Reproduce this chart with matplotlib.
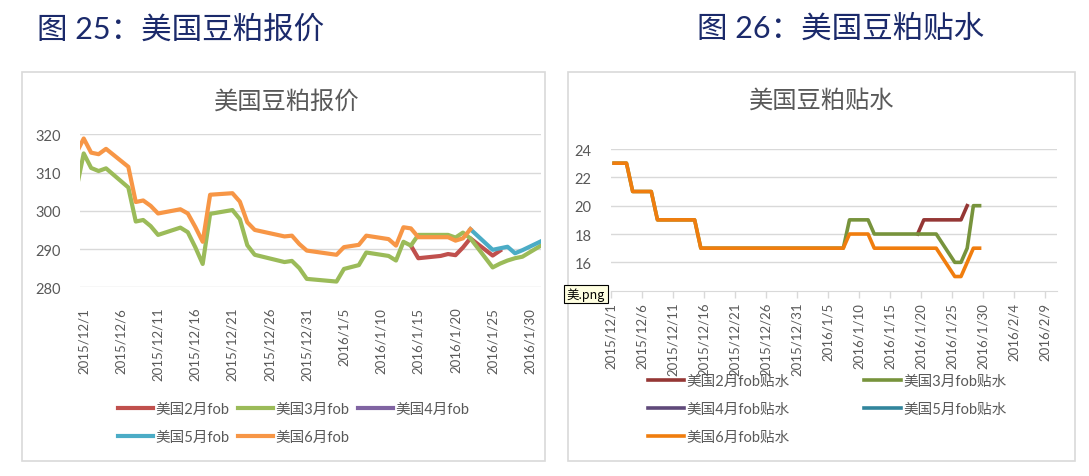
import matplotlib
matplotlib.use("Agg")
import matplotlib.pyplot as plt
from matplotlib.patches import Rectangle
import numpy as np

plt.rcParams['font.family'] = ['Lato', 'Noto Sans CJK SC', 'DejaVu Sans']

# ---- 图25 美国豆粕报价 ----
price_dates = ["2015-11-30", "2015-12-01", "2015-12-02", "2015-12-03", "2015-12-04",
               "2015-12-07", "2015-12-08", "2015-12-09", "2015-12-10", "2015-12-11",
               "2015-12-14", "2015-12-15", "2015-12-16", "2015-12-17", "2015-12-18",
               "2015-12-21", "2015-12-22", "2015-12-23", "2015-12-24", "2015-12-28",
               "2015-12-29", "2015-12-30", "2015-12-31", "2016-01-04", "2016-01-05",
               "2016-01-06", "2016-01-07", "2016-01-08", "2016-01-11", "2016-01-12",
               "2016-01-13", "2016-01-14", "2016-01-15", "2016-01-18", "2016-01-19",
               "2016-01-20", "2016-01-21", "2016-01-22", "2016-01-25", "2016-01-26",
               "2016-01-27", "2016-01-28", "2016-01-29", "2016-02-01"]
mar_fob = [305.5, 315.0, 311.2, 310.4, 311.1, 306.1, 297.2, 297.6, 296.0, 293.7,
           295.6, 294.4, 290.5, 286.1, 299.2, 300.2, 297.8, 291.0, 288.5, 286.6,
           286.9, 285.0, 282.2, 281.5, 284.8, 285.3, 285.8, 289.1, 288.2, 287.0,
           291.9, 290.9, 293.7, 293.7, 293.7, 293.0, 294.3, 292.8, 285.2, 286.2,
           287.0, 287.6, 288.0, 291.5]
jun_fob = [315.0, 318.9, 315.2, 314.8, 316.2, 311.5, 302.3, 302.7, 301.3, 299.3,
           300.4, 299.3, 295.8, 291.9, 304.2, 304.6, 302.4, 297.0, 295.0, 293.3,
           293.5, 291.3, 289.6, 288.5, 290.5, 290.8, 291.1, 293.5, 292.6, 290.9,
           295.7, 295.4, 293.1, 293.1, 293.1, 292.2, 292.8, 295.2]
feb_dates = ["2016-01-14", "2016-01-15", "2016-01-18", "2016-01-19", "2016-01-20",
             "2016-01-21", "2016-01-22", "2016-01-25", "2016-01-26"]
feb_fob = [290.9, 287.6, 288.2, 288.7, 288.4, 290.4, 292.8, 288.3, 289.6]
may_dates = ["2016-01-22", "2016-01-25", "2016-01-26", "2016-01-27", "2016-01-28",
             "2016-01-29", "2016-02-01"]
may_fob = [295.2, 289.8, 290.2, 290.6, 288.9, 289.7, 292.5]
apr_dates = []
apr_fob = []

# ---- 图26 美国豆粕贴水 ----
basis_dates = ["2015-12-01", "2015-12-02", "2015-12-03", "2015-12-04",
               "2015-12-07", "2015-12-08", "2015-12-09", "2015-12-10", "2015-12-11",
               "2015-12-14", "2015-12-15", "2015-12-16", "2015-12-17", "2015-12-18",
               "2015-12-21", "2015-12-22", "2015-12-23", "2015-12-24",
               "2015-12-28", "2015-12-29", "2015-12-30", "2015-12-31",
               "2016-01-04", "2016-01-05", "2016-01-06", "2016-01-07", "2016-01-08",
               "2016-01-11", "2016-01-12", "2016-01-13", "2016-01-14", "2016-01-15",
               "2016-01-18", "2016-01-19", "2016-01-20", "2016-01-21", "2016-01-22",
               "2016-01-25", "2016-01-26", "2016-01-27", "2016-01-28", "2016-01-29"]
jun_basis = [23, 23, 23, 21, 21, 19, 19, 19, 19, 19, 17, 17, 17, 17,
             17, 17, 17, 17, 17, 17, 17, 17, 17, 17, 17, 17, 18,
             18, 17, 17, 17, 17, 17, 17, 17, 17, 17, 15, 15, 16, 17, 17]
mar_basis = [23, 23, 23, 21, 21, 19, 19, 19, 19, 19, 17, 17, 17, 17,
             17, 17, 17, 17, 17, 17, 17, 17, 17, 17, 17, 17, 19,
             19, 18, 18, 18, 18, 18, 18, 18, 18, 18, 16, 16, 17, 20, 20]
feb_basis_dates = ["2016-01-19", "2016-01-20", "2016-01-21", "2016-01-22",
                   "2016-01-25", "2016-01-26", "2016-01-27"]
feb_basis = [18, 19, 19, 19, 19, 19, 20]

price_labels = ["美国2月fob", "美国3月fob", "美国4月fob", "美国5月fob", "美国6月fob"]
basis_labels = ["美国2月fob贴水", "美国3月fob贴水", "美国4月fob贴水", "美国5月fob贴水", "美国6月fob贴水"]

start = np.datetime64("2015-12-01")


def day_pos(dates):
    # 日期轴, 数据点位于当天格子中间
    d = np.array(dates, dtype="datetime64[D]")
    return (d - start).astype(float) + 0.5


def date_label(k):
    d = (start + np.timedelta64(int(k), "D")).astype(object)
    return f"{d.year}/{d.month}/{d.day}"


W, H = 1089, 477
fig = plt.figure(figsize=(W / 100, H / 100), dpi=100)
fig.patch.set_facecolor("white")


def fx(x):
    return x / W


def fy(y):
    return 1 - y / H


navy = "#1B2A6B"
gray = "#595959"
grid_c = "#D9D9D9"

fig.text(fx(37), fy(29), "图 25：美国豆粕报价", fontsize=22, color=navy, va="center")
fig.text(fx(697), fy(29), "图 26：美国豆粕贴水", fontsize=22, color=navy, va="center")

for x0, x1 in [(22, 545), (568, 1075)]:
    fig.patches.append(Rectangle((fx(x0), fy(462)), fx(x1 - x0), (462 - 73) / H,
                                 transform=fig.transFigure, fill=False,
                                 edgecolor=grid_c, lw=1.2))

# ---------------- left chart ----------------
ax1 = fig.add_axes([fx(80), fy(288.3), fx(461), 153 / H])
lw1 = 3.0
c1 = ["#C0504D", "#9BBB59", "#8064A2", "#4BACC6", "#F79646"]
h_feb, = ax1.plot(day_pos(feb_dates), feb_fob, color=c1[0], lw=lw1)
h_mar, = ax1.plot(day_pos(price_dates), mar_fob, color=c1[1], lw=lw1)
h_apr, = ax1.plot(day_pos(apr_dates), apr_fob, color=c1[2], lw=lw1)
h_may, = ax1.plot(day_pos(may_dates), may_fob, color=c1[3], lw=lw1)
h_jun, = ax1.plot(day_pos(price_dates[:len(jun_fob)]), jun_fob, color=c1[4], lw=lw1)

ax1.set_xlim(0, 62)
ax1.set_ylim(280, 320)
ax1.set_yticks([280, 290, 300, 310, 320])
ticks1 = np.arange(0, 61, 5)
ax1.set_xticks(ticks1 + 0.5)
ax1.set_xticklabels([date_label(k) for k in ticks1], rotation=90)
ax1.tick_params(axis="x", length=0, pad=14, labelsize=9.5, colors=gray)
ax1.tick_params(axis="y", length=0, pad=14, labelsize=10.5, colors=gray)
ax1.grid(axis="y", color=grid_c, lw=1)
ax1.set_axisbelow(True)
for s in ax1.spines.values():
    s.set_visible(False)

fig.text(fx(287), fy(101), "美国豆粕报价", fontsize=17.5, color=gray, ha="center", va="center")

hs = [h_feb, h_may, h_mar, h_jun, h_apr]
ls = [price_labels[0], price_labels[3], price_labels[1], price_labels[4], price_labels[2]]
fig.legend(hs, ls, loc="upper left", bbox_to_anchor=(fx(118), fy(403)), ncol=3,
           frameon=False, fontsize=10.5, handlelength=2.4, handletextpad=0.15,
           columnspacing=0.6, labelspacing=0.95, borderpad=0, borderaxespad=0,
           labelcolor=gray)

# ---------------- right chart ----------------
ax2 = fig.add_axes([fx(611), fy(291.7), fx(446), 141.7 / H])
lw2 = 2.6
c2 = ["#953735", "#77933C", "#5F497A", "#31859C", "#F07D0E"]
g_feb, = ax2.plot(day_pos(feb_basis_dates), feb_basis, color=c2[0], lw=lw2)
g_mar, = ax2.plot(day_pos(basis_dates), mar_basis, color=c2[1], lw=lw2)
g_apr, = ax2.plot([], [], color=c2[2], lw=lw2)
g_may, = ax2.plot([], [], color=c2[3], lw=lw2)
g_jun, = ax2.plot(day_pos(basis_dates), jun_basis, color=c2[4], lw=lw2)

ax2.set_xlim(0, 72)
ax2.set_ylim(14, 24)
ax2.set_yticks([16, 18, 20, 22, 24])
ticks2 = np.arange(0, 71, 5)
ax2.set_xticks(ticks2)
ax2.set_xticklabels([date_label(k) for k in ticks2], rotation=90)
ax2.tick_params(axis="x", length=5, width=1, color=grid_c, pad=3, labelsize=9.5, labelcolor=gray)
ax2.tick_params(axis="y", length=0, pad=14, labelsize=10.5, colors=gray)
ax2.grid(axis="y", color=grid_c, lw=1)
ax2.set_axisbelow(True)
for k, s in ax2.spines.items():
    s.set_visible(k == "bottom")
ax2.spines["bottom"].set_color(grid_c)

fig.text(fx(822), fy(100), "美国豆粕贴水", fontsize=17.5, color=gray, ha="center", va="center")

gs = [g_feb, g_apr, g_jun, g_mar, g_may]
gl = [basis_labels[0], basis_labels[2], basis_labels[4], basis_labels[1], basis_labels[3]]
fig.legend(gs, gl, loc="upper left", bbox_to_anchor=(fx(648), fy(375)), ncol=2,
           frameon=False, fontsize=10.5, handlelength=2.5, handletextpad=0.15,
           columnspacing=5.1, labelspacing=0.95, borderpad=0, borderaxespad=0,
           labelcolor=gray)

fig.text(fx(586), fy(295), "美.png", fontsize=9, color="black", ha="center", va="center",
         family=["Noto Sans CJK SC", "DejaVu Sans"],
         bbox=dict(boxstyle="square,pad=0.2", fc="#FFFFE1", ec="black", lw=0.8))

fig.savefig("out.png", dpi=100)
